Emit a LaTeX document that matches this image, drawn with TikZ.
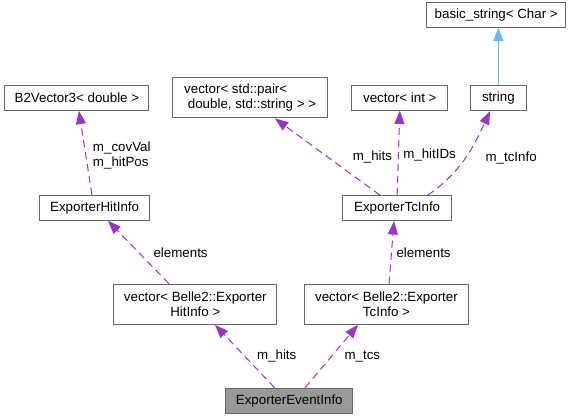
\documentclass[tikz,border=0pt]{standalone}
\usepackage{fontspec}
\setmainfont{Liberation Sans}
\usetikzlibrary{positioning, arrows.meta}

\definecolor{memberline}{HTML}{9A32CD}
\definecolor{inheritline}{HTML}{63B8FF}
\definecolor{boxline}{HTML}{666666}
\definecolor{boxfill}{HTML}{999999}

\begin{document}
\begin{tikzpicture}[x=0.75pt, y=0.75pt, every node/.style={font=\fontsize{10}{11.5}\selectfont},
    cls/.style={draw=boxline, line width=0.75pt, fill=white, align=center, minimum height=18.75pt, inner sep=2pt},
    lbl/.style={anchor=west, inner sep=0pt},
    member/.style={draw=memberline, line width=0.75pt, dash pattern=on 5.5pt off 3.5pt, -{Triangle[length=10pt, width=7.5pt]}},
    inherit/.style={draw=inheritline, line width=0.75pt, -{Triangle[length=10pt, width=7.5pt]}}]
    \useasboundingbox (0,0) rectangle (576,-419);

    \node[cls, fill=boxfill, minimum width=95.25pt] (event) at (289.3,-400.8) {ExporterEventInfo};
    \node[cls, minimum width=122pt, minimum height=30pt] (hitvec) [above=47.25pt of event, xshift=-70.5pt] {vector< Belle2::Exporter\\HitInfo >};
    \node[cls, minimum width=122.7pt, minimum height=30pt] (tcvec) [above=47.25pt of event, xshift=72.9pt] {vector< Belle2::Exporter\\TcInfo >};
    \node[cls, minimum width=83pt] (hitinfo) [above=47.25pt of hitvec, xshift=-75.5pt] {ExporterHitInfo};
    \node[cls, minimum width=81.75pt] (tcinfo) [above=47pt of tcvec, xshift=8pt] {ExporterTcInfo};
    \node[cls, minimum width=108pt] (b2vec) [above=63pt of hitinfo, xshift=-13.3pt] {B2Vector3< double >};
    \node[cls, minimum width=116.25pt, minimum height=30.5pt, align=left] (pairvec) [above=57.5pt of tcinfo, xshift=-110.25pt] {vector< std::pair<\\\mbox{}\ double, std::string > >};
    \node[cls, minimum width=71.8pt] (intvec) [above=63.4pt of tcinfo, xshift=2pt] {vector< int >};
    \node[cls, minimum width=41.5pt] (strnode) [above=63pt of tcinfo, xshift=75.9pt] {string};
    \node[cls, minimum width=104.25pt] (basicstr) [above=43.1pt of strnode, xshift=-1.6pt] {basic\_string< Char >};

    \draw[member] ([xshift=-11pt]event.north) -- node[lbl, xshift=8.8pt] {m\_hits} ([xshift=14.8pt]hitvec.south);
    \draw[member] ([xshift=11.8pt]event.north) -- node[lbl, xshift=9.4pt] {m\_tcs} ([xshift=-21.4pt]tcvec.south);
    \draw[member] ([xshift=-19.7pt]hitvec.north) -- node[lbl, xshift=10.9pt] {elements} ([xshift=10pt]hitinfo.south);
    \draw[member] ([xshift=1.9pt]tcvec.north) -- node[lbl, xshift=3.4pt] {elements} ([xshift=-2.4pt]tcinfo.south);
    \draw[member] ([xshift=-2pt]hitinfo.north) -- node[lbl, align=left, xshift=5.3pt, yshift=-2.25pt] {m\_covVal\\m\_hitPos} ([xshift=1.5pt]b2vec.south);
    \draw[member] ([xshift=-12.9pt]tcinfo.north) -- node[lbl, xshift=18.6pt] {m\_hits} ([xshift=18.6pt]pairvec.south);
    \draw[member] (tcinfo.north) -- node[lbl, xshift=3.2pt, yshift=-1.5pt] {m\_hitIDs} (intvec.south);
    \draw[member] ([xshift=23pt]tcinfo.north) to[out=35, in=-115] node[lbl, xshift=15pt] {m\_tcInfo} ([xshift=-6.2pt]strnode.south);
    \draw[inherit] (strnode) -- (strnode |- basicstr.south);
\end{tikzpicture}
\end{document}
